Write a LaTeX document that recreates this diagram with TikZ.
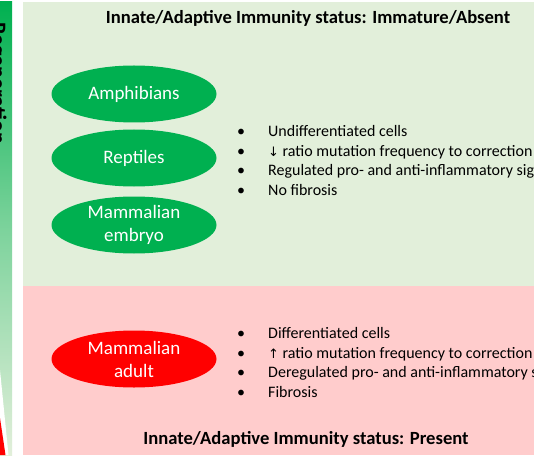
\documentclass[tikz,border=0pt]{standalone}
\usepackage{fontspec}
\setmainfont{Carlito}
\usetikzlibrary{shapes.geometric}
\definecolor{panelgreen}{HTML}{E2EFDA}
\definecolor{panelpink}{HTML}{FFCCCC}
\definecolor{ellgreen}{HTML}{00B050}
\definecolor{ellred}{HTML}{FF0000}
\tikzset{
  organism/.style={ellipse, minimum width=165pt, minimum height=57pt, inner sep=0pt,
    text=white, font=\fontsize{19}{23}\selectfont, align=center},
  bulletlist/.style={anchor=north west, inner sep=0pt, align=left,
    font=\fontsize{16}{19.7}\selectfont},
  statustitle/.style={font=\bfseries\fontsize{18.6}{20}\selectfont, inner sep=0pt}
}
\newcommand{\blt}{\makebox[31pt][l]{\textbullet}}
\newcommand{\arrglyph}[1]{{\fontspec{DejaVu Sans}\fontsize{13}{15}\selectfont #1}}
\begin{document}
\begin{tikzpicture}[x=1pt,y=-1pt]
\useasboundingbox[fill=white] (0,0) rectangle (534,462);
% panels
\fill[panelgreen] (23,2) rectangle (534,286);
\fill[panelpink] (23,286) rectangle (534,455);
% left regeneration strip
\begin{scope}
\clip (0,2) rectangle (12,455);
\shade[top color=ellgreen, bottom color=panelgreen, middle color=ellgreen!45!panelgreen] (0,2) rectangle (12,455);
\fill[white] (0,370) -- (8.5,455) -- (0,455) -- cycle;
\fill[ellred] (0,418) -- (5.5,455) -- (0,455) -- cycle;
\node[rotate=-90, anchor=base west, inner sep=0pt, font=\bfseries\fontsize{22}{24}\selectfont] (regen) at (-9,22) {Regeneration};
\end{scope}
% titles
\node[statustitle] (toptitle) at (308,18) {Innate/Adaptive Immunity status: Immature/Absent};
\node[statustitle] (bottitle) at (306,439) {Innate/Adaptive Immunity status: Present};
% ellipses
\node[organism, fill=ellgreen] (amph) at (134,94) {Amphibians};
\node[organism, fill=ellgreen] (rept) at (134,158) {Reptiles};
\node[organism, fill=ellgreen] (embryo) at (134,225) {Mammalian\\embryo};
\node[organism, fill=ellred] (adult) at (134,359) {Mammalian\\adult};
% bullet lists
\begin{scope}
\clip (23,2) rectangle (534,455);
\node[bulletlist] (greenlist) at (237,125) {\blt Undifferentiated cells\\
\blt \arrglyph{↓} ratio mutation frequency to correction\\
\blt Regulated pro- and anti-inflammatory signaling\\
\blt No fibrosis};
\node[bulletlist] (pinklist) at (237,327) {\blt Differentiated cells\\
\blt \arrglyph{↑} ratio mutation frequency to correction\\
\blt Deregulated pro- and anti-inflammatory signaling\\
\blt Fibrosis};
\end{scope}
\end{tikzpicture}
\end{document}
